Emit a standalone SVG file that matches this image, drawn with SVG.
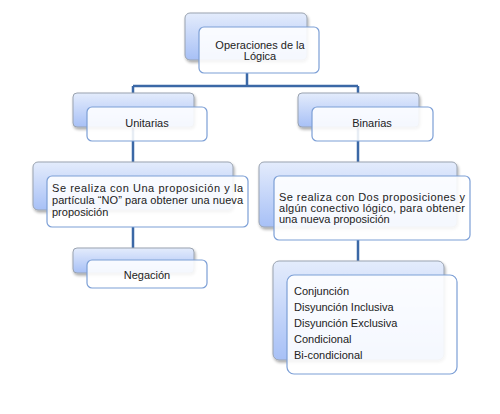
<svg xmlns="http://www.w3.org/2000/svg" width="500" height="414" viewBox="0 0 500 414">
<defs>
<linearGradient id="bg" x1="0" y1="0" x2="0" y2="1">
<stop offset="0" stop-color="#e4ecfc"/>
<stop offset="1" stop-color="#a7c0f6"/>
</linearGradient>
<filter id="sh" x="-10%" y="-10%" width="130%" height="140%">
<feGaussianBlur in="SourceAlpha" stdDeviation="1.5"/>
<feOffset dx="1" dy="2" result="b"/>
<feComponentTransfer><feFuncA type="linear" slope="0.35"/></feComponentTransfer>
<feMerge><feMergeNode/><feMergeNode in="SourceGraphic"/></feMerge>
</filter>
</defs>
<style>
.back{fill:url(#bg);stroke:#9aa3b0;stroke-width:1;filter:url(#sh)}
.front{fill:#ffffff;fill-opacity:0.88;stroke:#7c9fd6;stroke-width:1.2}
.c{fill:none;stroke:#3b68a6;stroke-width:2.5}
text{font-family:"Liberation Sans",Arial,sans-serif;font-size:11px;fill:#222}
.m{text-anchor:middle}
</style>
<rect width="500" height="414" fill="#fff"/>
<g id="connectors">
<path class="c" d="M247 73V86M133 86H358M133 86V176M358 86V176M133 227V260M358 240V275"/>
</g>
<g id="n-top">
<rect class="back" x="185" y="13" width="122" height="47" rx="5"/>
<rect class="front" x="199" y="27" width="120" height="46" rx="5"/>
<text class="m" x="260" y="49">Operaciones de la</text>
<text class="m" x="260" y="60">Lógica</text>
</g>
<g id="n-unitarias">
<rect class="back" x="73" y="93" width="121" height="34" rx="4"/>
<rect class="front" x="87" y="107" width="120" height="34" rx="5"/>
<text class="m" x="147" y="127">Unitarias</text>
</g>
<g id="n-binarias">
<rect class="back" x="298" y="93" width="121" height="34" rx="4"/>
<rect class="front" x="312" y="107" width="121" height="34" rx="5"/>
<text class="m" x="372" y="127">Binarias</text>
</g>
<g id="n-unit-desc">
<rect class="back" x="33" y="162" width="200" height="48" rx="5"/>
<rect class="front" x="47" y="176" width="201" height="51" rx="5"/>
<text x="52" y="192" textLength="191" lengthAdjust="spacing">Se realiza con Una proposición y la</text>
<text x="52" y="204" textLength="191" lengthAdjust="spacing">partícula “NO” para obtener una nueva</text>
<text x="52" y="216">proposición</text>
</g>
<g id="n-bin-desc">
<rect class="back" x="259" y="162" width="198" height="65" rx="5"/>
<rect class="front" x="274" y="176" width="196" height="64" rx="5"/>
<text x="279" y="201" textLength="186" lengthAdjust="spacing">Se realiza con Dos proposiciones y</text>
<text x="279" y="212" textLength="186" lengthAdjust="spacing">algún conectivo lógico, para obtener</text>
<text x="279" y="223">una nueva proposición</text>
</g>
<g id="n-negacion">
<rect class="back" x="73" y="248" width="121" height="25" rx="4"/>
<rect class="front" x="87" y="260" width="120" height="28" rx="5"/>
<text class="m" x="147" y="279">Negación</text>
</g>
<g id="n-list">
<rect class="back" x="273" y="261" width="171" height="99" rx="6"/>
<rect class="front" x="287" y="275" width="170" height="99" rx="7"/>
<text x="294" y="295">Conjunción</text>
<text x="294" y="311">Disyunción Inclusiva</text>
<text x="294" y="327">Disyunción Exclusiva</text>
<text x="294" y="343">Condicional</text>
<text x="294" y="359">Bi-condicional</text>
</g>
</svg>
